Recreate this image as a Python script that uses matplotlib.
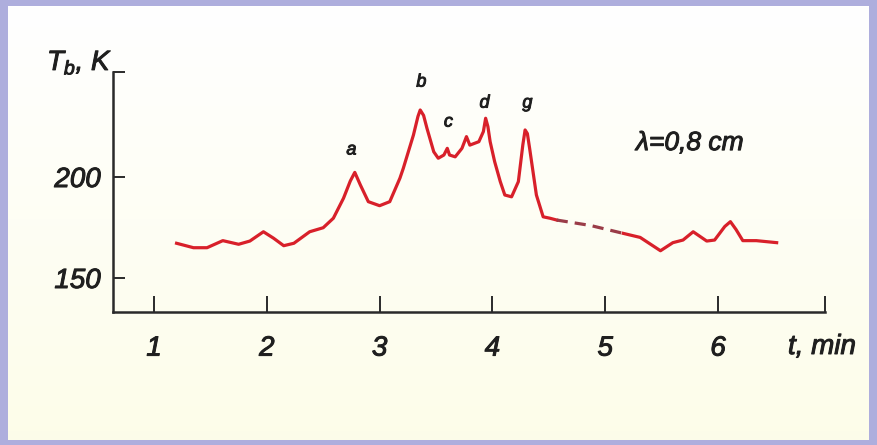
import numpy as np
import matplotlib
matplotlib.use("Agg")
import matplotlib.pyplot as plt
import matplotlib.patheffects as pe

# ---------------------------------------------------------------------------
# Data (t in min, Tb in K)
# ---------------------------------------------------------------------------
t_before = [1.20, 1.35, 1.47, 1.61, 1.75, 1.85, 1.97, 2.06, 2.15, 2.24, 2.38,
            2.50, 2.59, 2.68, 2.74, 2.78, 2.83, 2.90, 3.00, 3.09, 3.18, 3.21,
            3.30, 3.34, 3.36, 3.39, 3.42, 3.48, 3.52, 3.57, 3.60, 3.62, 3.67,
            3.73, 3.77, 3.80, 3.88, 3.92, 3.94, 3.96, 3.98, 4.02, 4.07, 4.11,
            4.17, 4.23, 4.27, 4.29, 4.31, 4.33, 4.39, 4.45, 4.51, 4.57]
T_before = [167.2, 165.0, 165.0, 168.5, 166.7, 168.3, 172.9, 169.7, 166.0,
            167.2, 172.9, 174.9, 179.6, 189.5, 198.0, 202.3, 196.0, 187.8,
            185.8, 187.8, 199.4, 204.3, 220.8, 230.0, 233.2, 230.5, 224.1,
            212.5, 209.3, 210.9, 214.2, 210.9, 210.0, 214.2, 220.0, 215.8,
            217.5, 222.5, 229.1, 225.0, 217.5, 207.6, 197.7, 191.1, 190.2,
            197.7, 216.0, 223.3, 221.5, 214.2, 191.1, 180.3, 179.6, 178.7]

t_gap = [4.57, 4.87, 5.16]
T_gap = [178.7, 176.0, 172.1]

t_after = [5.16, 5.31, 5.49, 5.60, 5.69, 5.78, 5.90, 5.97, 6.06, 6.11, 6.16,
           6.22, 6.34, 6.52]
T_after = [172.1, 170.1, 163.5, 167.5, 168.8, 172.9, 168.3, 168.8, 175.5,
           177.9, 174.0, 168.5, 168.5, 167.5]

peak_names = ["a", "b", "c", "d", "g"]
peak_t = [2.75, 3.37, 3.61, 3.93, 4.31]
peak_T = [213.4, 247.0, 227.2, 236.6, 236.6]

x_ticks = [1, 2, 3, 4, 5, 6]
y_ticks = [150, 200]

# ---------------------------------------------------------------------------
# Figure
# ---------------------------------------------------------------------------
plt.rcParams["font.family"] = ["Liberation Sans", "DejaVu Sans"]
plt.rcParams["mathtext.fontset"] = "custom"
plt.rcParams["mathtext.it"] = "Liberation Sans:italic"
plt.rcParams["mathtext.rm"] = "Liberation Sans"

INK = "#1f1f1f"
bold = [pe.withStroke(linewidth=0.7, foreground=INK)]

W, H = 877, 445
fig = plt.figure(figsize=(W / 100, H / 100), dpi=100, facecolor="#aeaedd")

# cream panel with a faint vertical gradient
bg = fig.add_axes([8 / W, 5 / H, (869 - 8) / W, (439 - 5) / H], zorder=-5)
grad = np.linspace(0, 1, 256).reshape(-1, 1)
top = np.array([1.0, 1.0, 1.0])
bot = np.array([0.992, 0.992, 0.915])
img = top + (bot - top) * grad[..., None]
bg.imshow(img, aspect="auto", extent=[0, 1, 0, 1])
bg.set_axis_off()

ax = fig.add_axes([113 / W, (H - 312) / H, (825 - 113) / W, (312 - 72) / H])
ax.set_facecolor("none")

xlim = (0.6365, 6.9486)
ylim = (133.17, 252.0)
ax.set_xlim(*xlim)
ax.set_ylim(*ylim)

red = "#d8202a"
ax.plot(t_before, T_before, color=red, lw=2.3, solid_joinstyle="round")
ax.plot(t_gap, T_gap, color="#9a3c48", lw=2.3, ls=(0, (3.5, 2.2)))
ax.plot(t_after, T_after, color=red, lw=2.3, solid_joinstyle="round")

for name, t, T in zip(peak_names, peak_t, peak_T):
    ax.text(t, T, name, fontsize=13, style="italic", color=INK,
            ha="center", va="center", path_effects=bold)

ax.text(5.75, 216.8, "λ=0,8 cm", fontsize=19, style="italic",
        color=INK, ha="center", va="center", path_effects=bold)

# axes: hand-drawn look, ticks pointing inwards
for side in ("top", "right"):
    ax.spines[side].set_visible(False)
for side in ("left", "bottom"):
    ax.spines[side].set_linewidth(1.8)
    ax.spines[side].set_color("#2a2a2a")

ax.set_xticks(x_ticks + [xlim[1]])
ax.set_xticklabels([str(v) for v in x_ticks] + [""])
ax.set_yticks(y_ticks + [ylim[1]])
ax.set_yticklabels([str(v) for v in y_ticks] + [""])
ax.tick_params(axis="x", direction="in", length=11.5, width=1.4,
               color="#2a2a2a", pad=17, labelsize=20)
ax.tick_params(axis="y", direction="in", length=8.5, width=1.4,
               color="#2a2a2a", pad=9, labelsize=20)
for lab in ax.get_xticklabels() + ax.get_yticklabels():
    lab.set_style("italic")
    lab.set_color(INK)
    lab.set_path_effects(bold)

fig.text(788 / W, 1 - 347 / H, "t, min", fontsize=20, style="italic",
         color=INK, ha="left", va="center", path_effects=bold)
fig.text(47 / W, 1 - 70 / H, r"$T_b$, K", fontsize=20, style="italic",
         color=INK, ha="left", va="baseline", path_effects=bold)

fig.savefig("out.png", dpi=100, facecolor=fig.get_facecolor())
